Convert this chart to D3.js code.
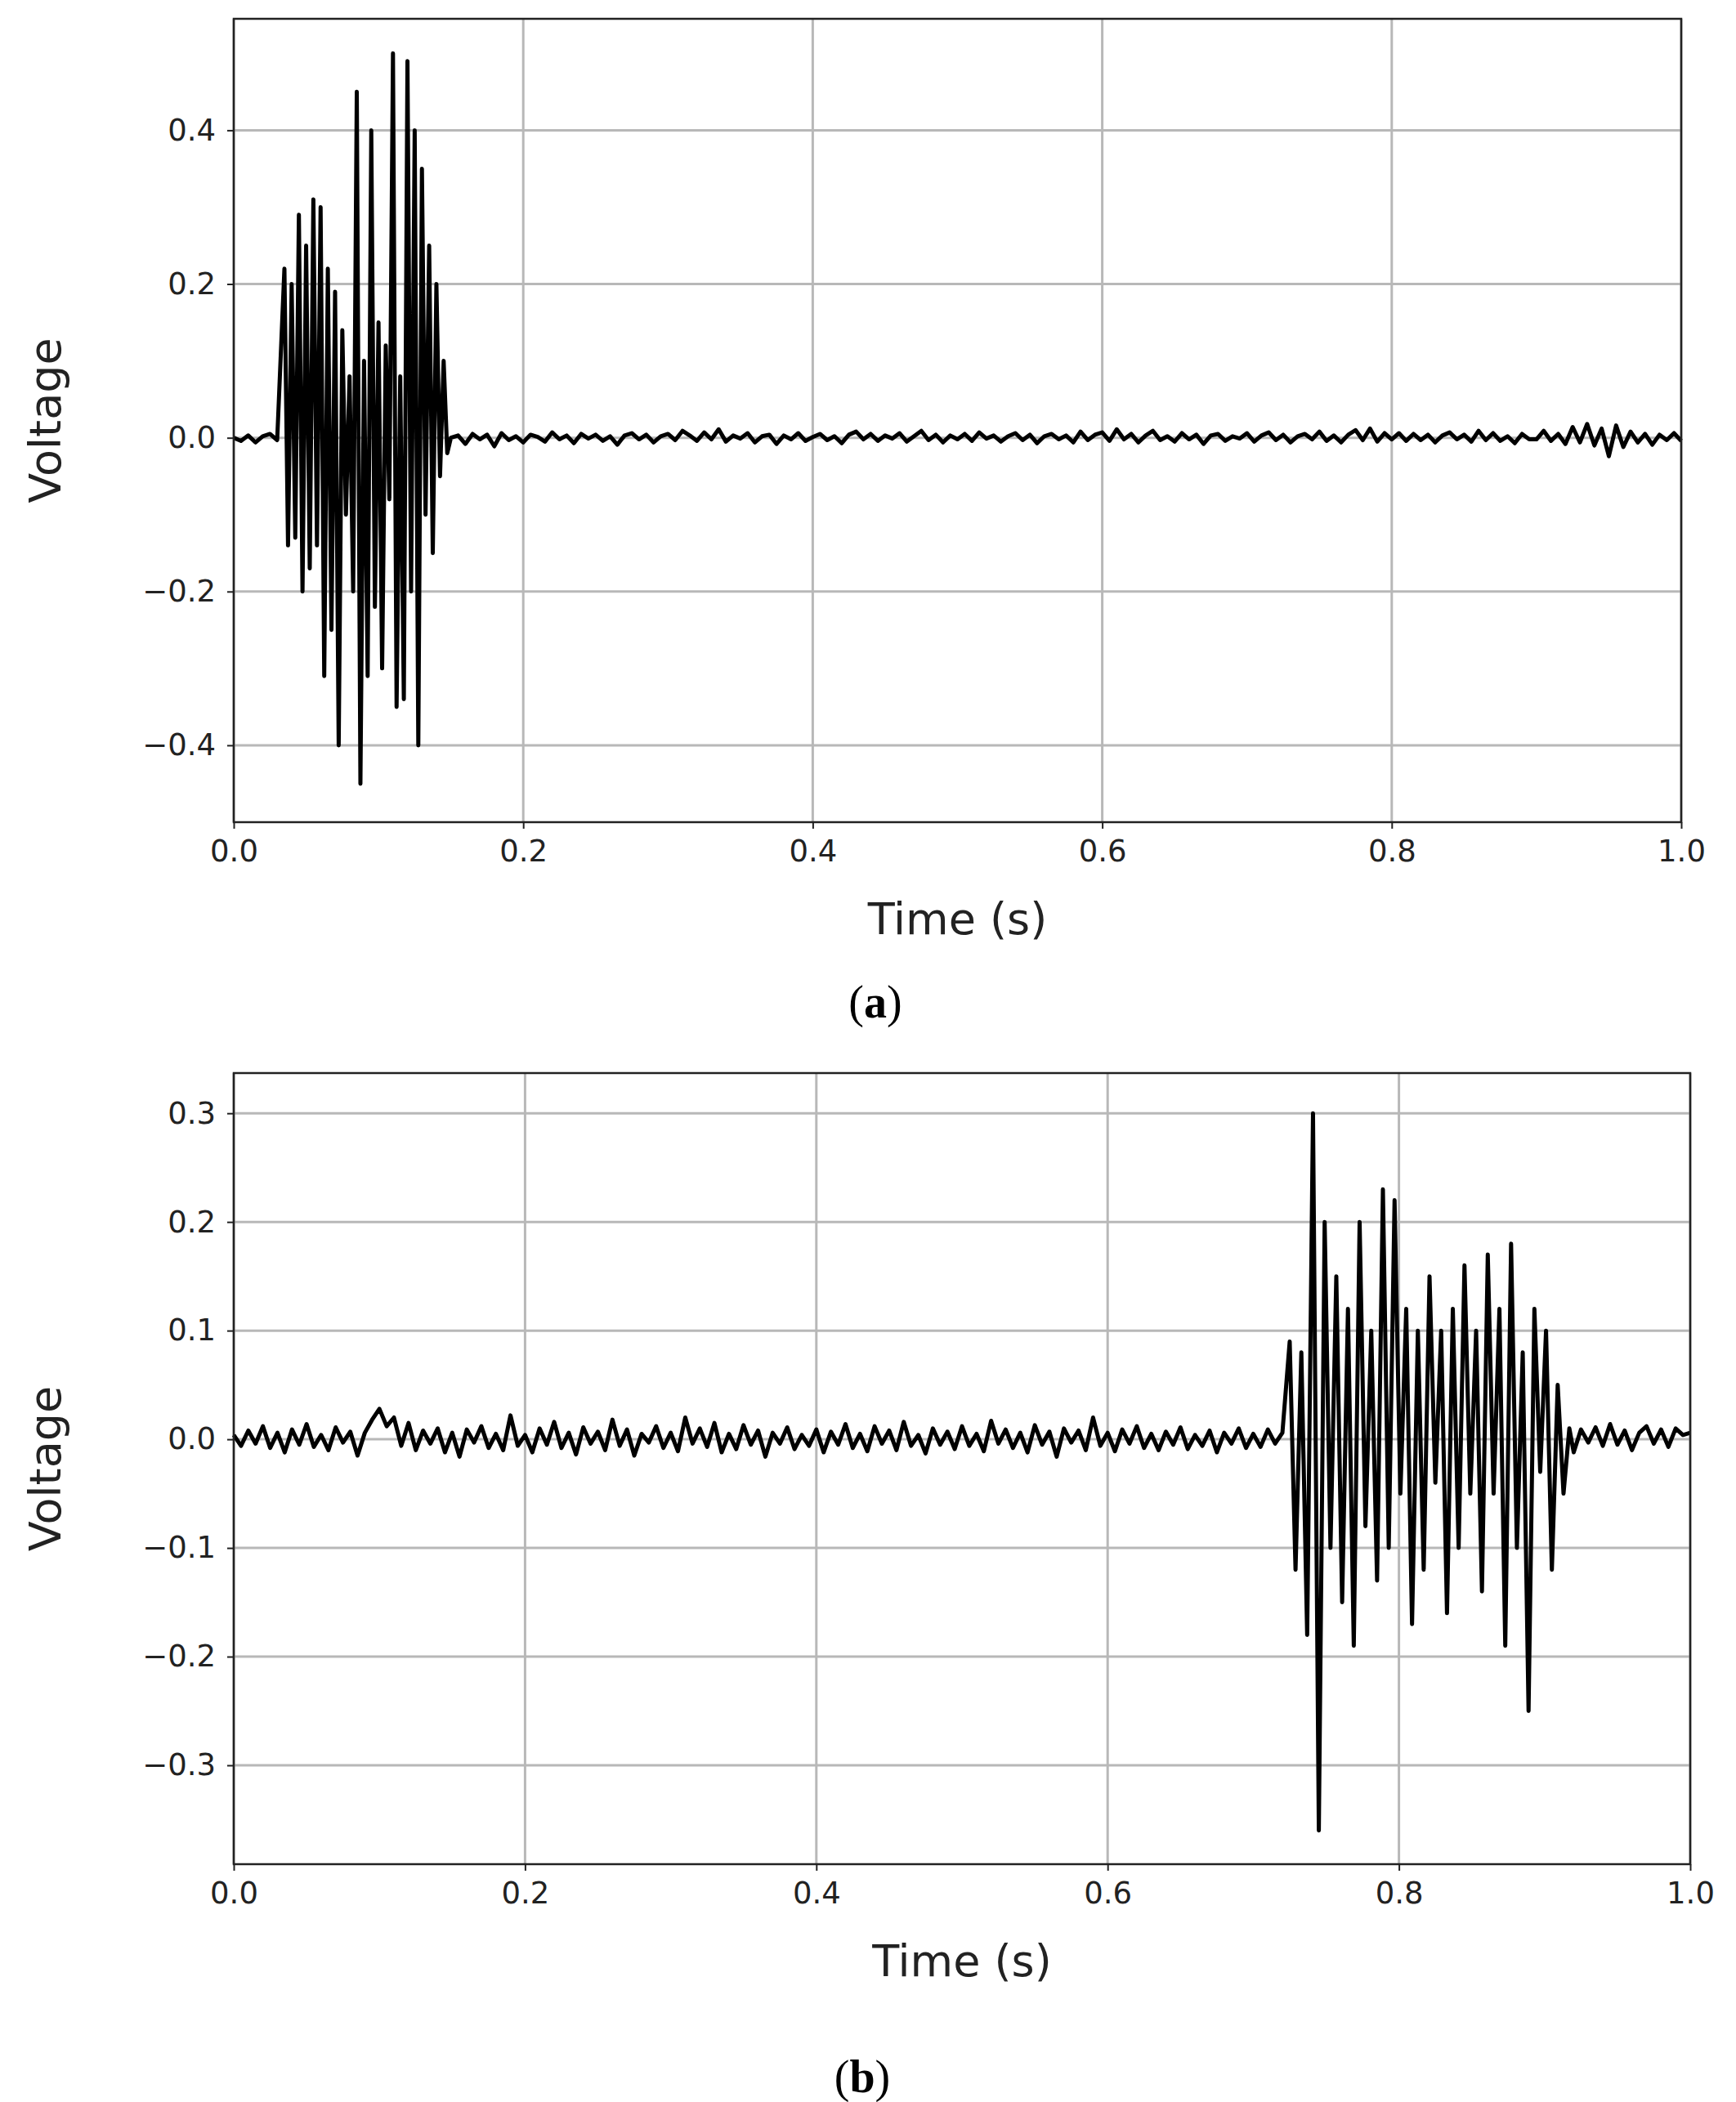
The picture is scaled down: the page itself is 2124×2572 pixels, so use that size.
<!DOCTYPE html>
<html><head><meta charset="utf-8">
<script src="https://cdn.jsdelivr.net/npm/d3@7"></script>
<style>body{margin:0;background:#fff}</style></head>
<body><svg id="c" width="2124" height="2572"></svg>
<script>
// ---- data ----
const noiseStep = 0.005;
const noiseA = [0,-0.004,0.003,-0.006,0.002,0.005,-0.003,0.001,-0.005,0.004,0.002,-0.002,0.003,-0.004,0.006,-0.003,0.002,-0.001,0.004,-0.006,
0.005,-0.002,0.008,0.012,0.004,-0.003,0.006,-0.005,0.002,0.007,-0.004,0.003,-0.008,0.005,-0.002,0.004,-0.011,0.006,-0.003,0.002,
-0.006,0.004,0.001,-0.005,0.007,-0.002,0.003,-0.007,0.005,-0.001,0.004,-0.004,0.002,-0.009,0.003,0.006,-0.002,0.004,-0.006,0.002,
0.005,-0.003,0.009,0.003,-0.004,0.007,-0.002,0.011,-0.005,0.003,-0.001,0.006,-0.006,0.002,0.004,-0.008,0.003,-0.002,0.006,-0.004,
0.001,0.005,-0.003,0.002,-0.007,0.004,0.008,-0.002,0.005,-0.004,0.003,-0.001,0.006,-0.005,0.002,0.009,-0.003,0.004,-0.006,0.003,
-0.002,0.005,-0.004,0.007,-0.001,0.003,-0.005,0.002,0.006,-0.003,0.004,-0.007,0.002,0.005,-0.002,0.003,-0.006,0.008,-0.003,0.004,
0.007,-0.004,0.011,-0.002,0.005,-0.006,0.003,0.009,-0.003,0.002,-0.005,0.006,-0.002,0.004,-0.008,0.003,0.005,-0.004,0.002,-0.001,
0.006,-0.005,0.003,0.007,-0.003,0.004,-0.006,0.002,0.005,-0.002,0.008,-0.004,0.003,-0.006,0.004,0.010,-0.003,0.012,-0.005,0.006,
-0.002,0.006,-0.004,0.005,-0.003,0.004,-0.006,0.003,0.007,-0.002,0.004,-0.005,0.009,-0.003,0.006,-0.004,0.002,-0.007,0.005,-0.002,
-0.002,0.009,-0.004,0.005,-0.008,0.014,-0.006,0.018,-0.010,0.012,-0.024,0.016,-0.012,0.008,-0.006,0.005,-0.009,0.004,-0.003,0.006,-0.004];
const burstA = {start:0.035, step:0.0025, values:[0.22,-0.14,0.2,-0.13,0.29,-0.2,0.25,-0.17,0.31,-0.14,0.3,-0.31,0.22,-0.25,0.19,-0.4,0.14,-0.1,0.08,-0.2,0.45,-0.45,0.1,-0.31,0.4,-0.22,0.15,-0.3,0.12,-0.08,0.5,-0.35,0.08,-0.34,0.49,-0.2,0.4,-0.4,0.35,-0.1,0.25,-0.15,0.2,-0.05,0.1,-0.02,0.0]};
const noiseB = [0.004,-0.006,0.008,-0.004,0.012,-0.008,0.006,-0.012,0.009,-0.005,0.014,-0.007,0.004,-0.01,0.011,-0.003,0.007,-0.015,0.006,0.018,
0.028,0.012,0.02,-0.006,0.015,-0.01,0.008,-0.004,0.01,-0.012,0.006,-0.016,0.009,-0.003,0.012,-0.008,0.005,-0.01,0.022,-0.006,
0.004,-0.012,0.01,-0.005,0.016,-0.008,0.006,-0.014,0.011,-0.004,0.007,-0.01,0.018,-0.006,0.009,-0.015,0.005,-0.003,0.012,-0.008,
0.006,-0.011,0.02,-0.004,0.01,-0.007,0.015,-0.012,0.005,-0.009,0.013,-0.005,0.008,-0.016,0.006,-0.004,0.011,-0.009,0.004,-0.006,
0.009,-0.012,0.007,-0.005,0.014,-0.008,0.005,-0.011,0.012,-0.004,0.008,-0.01,0.016,-0.006,0.004,-0.013,0.01,-0.005,0.007,-0.009,
0.012,-0.006,0.005,-0.011,0.017,-0.004,0.009,-0.008,0.006,-0.012,0.013,-0.005,0.007,-0.016,0.01,-0.003,0.008,-0.01,0.02,-0.006,
0.006,-0.011,0.009,-0.004,0.012,-0.008,0.005,-0.01,0.007,-0.005,0.011,-0.009,0.004,-0.006,0.008,-0.012,0.006,-0.004,0.01,-0.008,
0.005,-0.007,0.009,-0.004,0.006,-0.01,0.004,-0.005,0.007,-0.003,0.005,-0.006,0.004,0.0,0.0,0.0,0.0,0.0,0.0,0.0,
0.0,0.0,0.0,0.0,0.0,0.0,0.0,0.0,0.0,0.0,0.0,0.0,0.0,0.0,0.0,0.0,0.0,0.0,-0.006,0.008,
-0.004,0.01,-0.008,0.005,-0.012,0.009,-0.003,0.011,-0.006,0.014,-0.005,0.008,-0.01,0.006,0.012,-0.004,0.009,-0.007,0.01,0.004,0.006];
const burstB = {start:0.725, step:0.004, values:[0.09,-0.12,0.08,-0.18,0.3,-0.36,0.2,-0.1,0.15,-0.15,0.12,-0.19,0.2,-0.08,0.1,-0.13,0.23,-0.1,0.22,-0.05,0.12,-0.17,0.1,-0.12,0.15,-0.04,0.1,-0.16,0.12,-0.1,0.16,-0.05,0.1,-0.14,0.17,-0.05,0.12,-0.19,0.18,-0.1,0.08,-0.25,0.12,-0.03,0.1,-0.12,0.05,-0.05,0.01]};
const xTicks = [0,0.2,0.4,0.6,0.8,1.0];
const yTicksA = [-0.4,-0.2,0,0.2,0.4];
const yTicksB = [-0.3,-0.2,-0.1,0,0.1,0.2,0.3];

function series(noise, burst){
  const bEnd = burst.start + burst.step*(burst.values.length-1);
  const pts = [];
  noise.forEach((v,i)=>{const t=i*noiseStep; if(t<burst.start) pts.push([t,v]);});
  burst.values.forEach((v,i)=>pts.push([burst.start+i*burst.step,v]));
  noise.forEach((v,i)=>{const t=i*noiseStep; if(t>bEnd && t<=1.0001) pts.push([t,v]);});
  return pts;
}

const svg = d3.select("#c");
const F = "DejaVu Sans, sans-serif";
function panel(cfg){
  const x = d3.scaleLinear().domain([0,1]).range([cfg.l,cfg.r]);
  const y = d3.scaleLinear().domain(cfg.yd).range([cfg.b,cfg.t]);
  const g = svg.append("g");
  g.selectAll(".gx").data(xTicks).join("line").attr("x1",d=>x(d)).attr("x2",d=>x(d)).attr("y1",cfg.t).attr("y2",cfg.b).attr("stroke","#b8b8b8").attr("stroke-width",3);
  g.selectAll(".gy").data(cfg.yt).join("line").attr("y1",d=>y(d)).attr("y2",d=>y(d)).attr("x1",cfg.l).attr("x2",cfg.r).attr("stroke","#b8b8b8").attr("stroke-width",3);
  g.append("path").datum(cfg.data).attr("d",d3.line().x(d=>x(d[0])).y(d=>y(d[1]))).attr("fill","none").attr("stroke","#000").attr("stroke-width",5).attr("stroke-linejoin","round");
  g.append("rect").attr("x",cfg.l).attr("y",cfg.t).attr("width",cfg.r-cfg.l).attr("height",cfg.b-cfg.t).attr("fill","none").attr("stroke","#222").attr("stroke-width",2.5);
  const fmt = d=>(d<0?"\u2212":"")+Math.abs(d).toFixed(1);
  const ax = g.append("g").attr("transform",`translate(0,${cfg.b})`).call(d3.axisBottom(x).tickValues(xTicks).tickFormat(fmt).tickSize(8).tickPadding(14));
  const ay = g.append("g").attr("transform",`translate(${cfg.l},0)`).call(d3.axisLeft(y).tickValues(cfg.yt).tickFormat(fmt).tickSize(8).tickPadding(14));
  [ax,ay].forEach(a=>{a.select(".domain").remove();a.selectAll("line").attr("stroke","#222").attr("stroke-width",2);a.selectAll("text").attr("font-family",F).attr("font-size",37).attr("fill","#222");});
  g.append("text").attr("x",(cfg.l+cfg.r)/2).attr("y",cfg.b+137).attr("text-anchor","middle").attr("font-family",F).attr("font-size",54).attr("fill","#222").text("Time (s)");
  g.append("text").attr("transform",`translate(74,${(cfg.t+cfg.b)/2}) rotate(-90)`).attr("text-anchor","middle").attr("font-family",F).attr("font-size",54).attr("fill","#222").text("Voltage");
  const lab = g.append("text").attr("x",cfg.labX).attr("y",cfg.labY).attr("text-anchor","middle").attr("font-family","Liberation Serif, serif").attr("font-size",56).attr("fill","#000");
  lab.append("tspan").text("(");lab.append("tspan").attr("font-weight","bold").text(cfg.lab);lab.append("tspan").text(")");
}
panel({l:286,r:2057,t:23,b:1006,yd:[-0.5,0.545],yt:yTicksA,data:series(noiseA,burstA),labX:1071,labY:1245,lab:"a"});
panel({l:286,r:2068,t:1313,b:2281,yd:[-0.391,0.337],yt:yTicksB,data:series(noiseB,burstB),labX:1055,labY:2560,lab:"b"});
</script></body></html>
